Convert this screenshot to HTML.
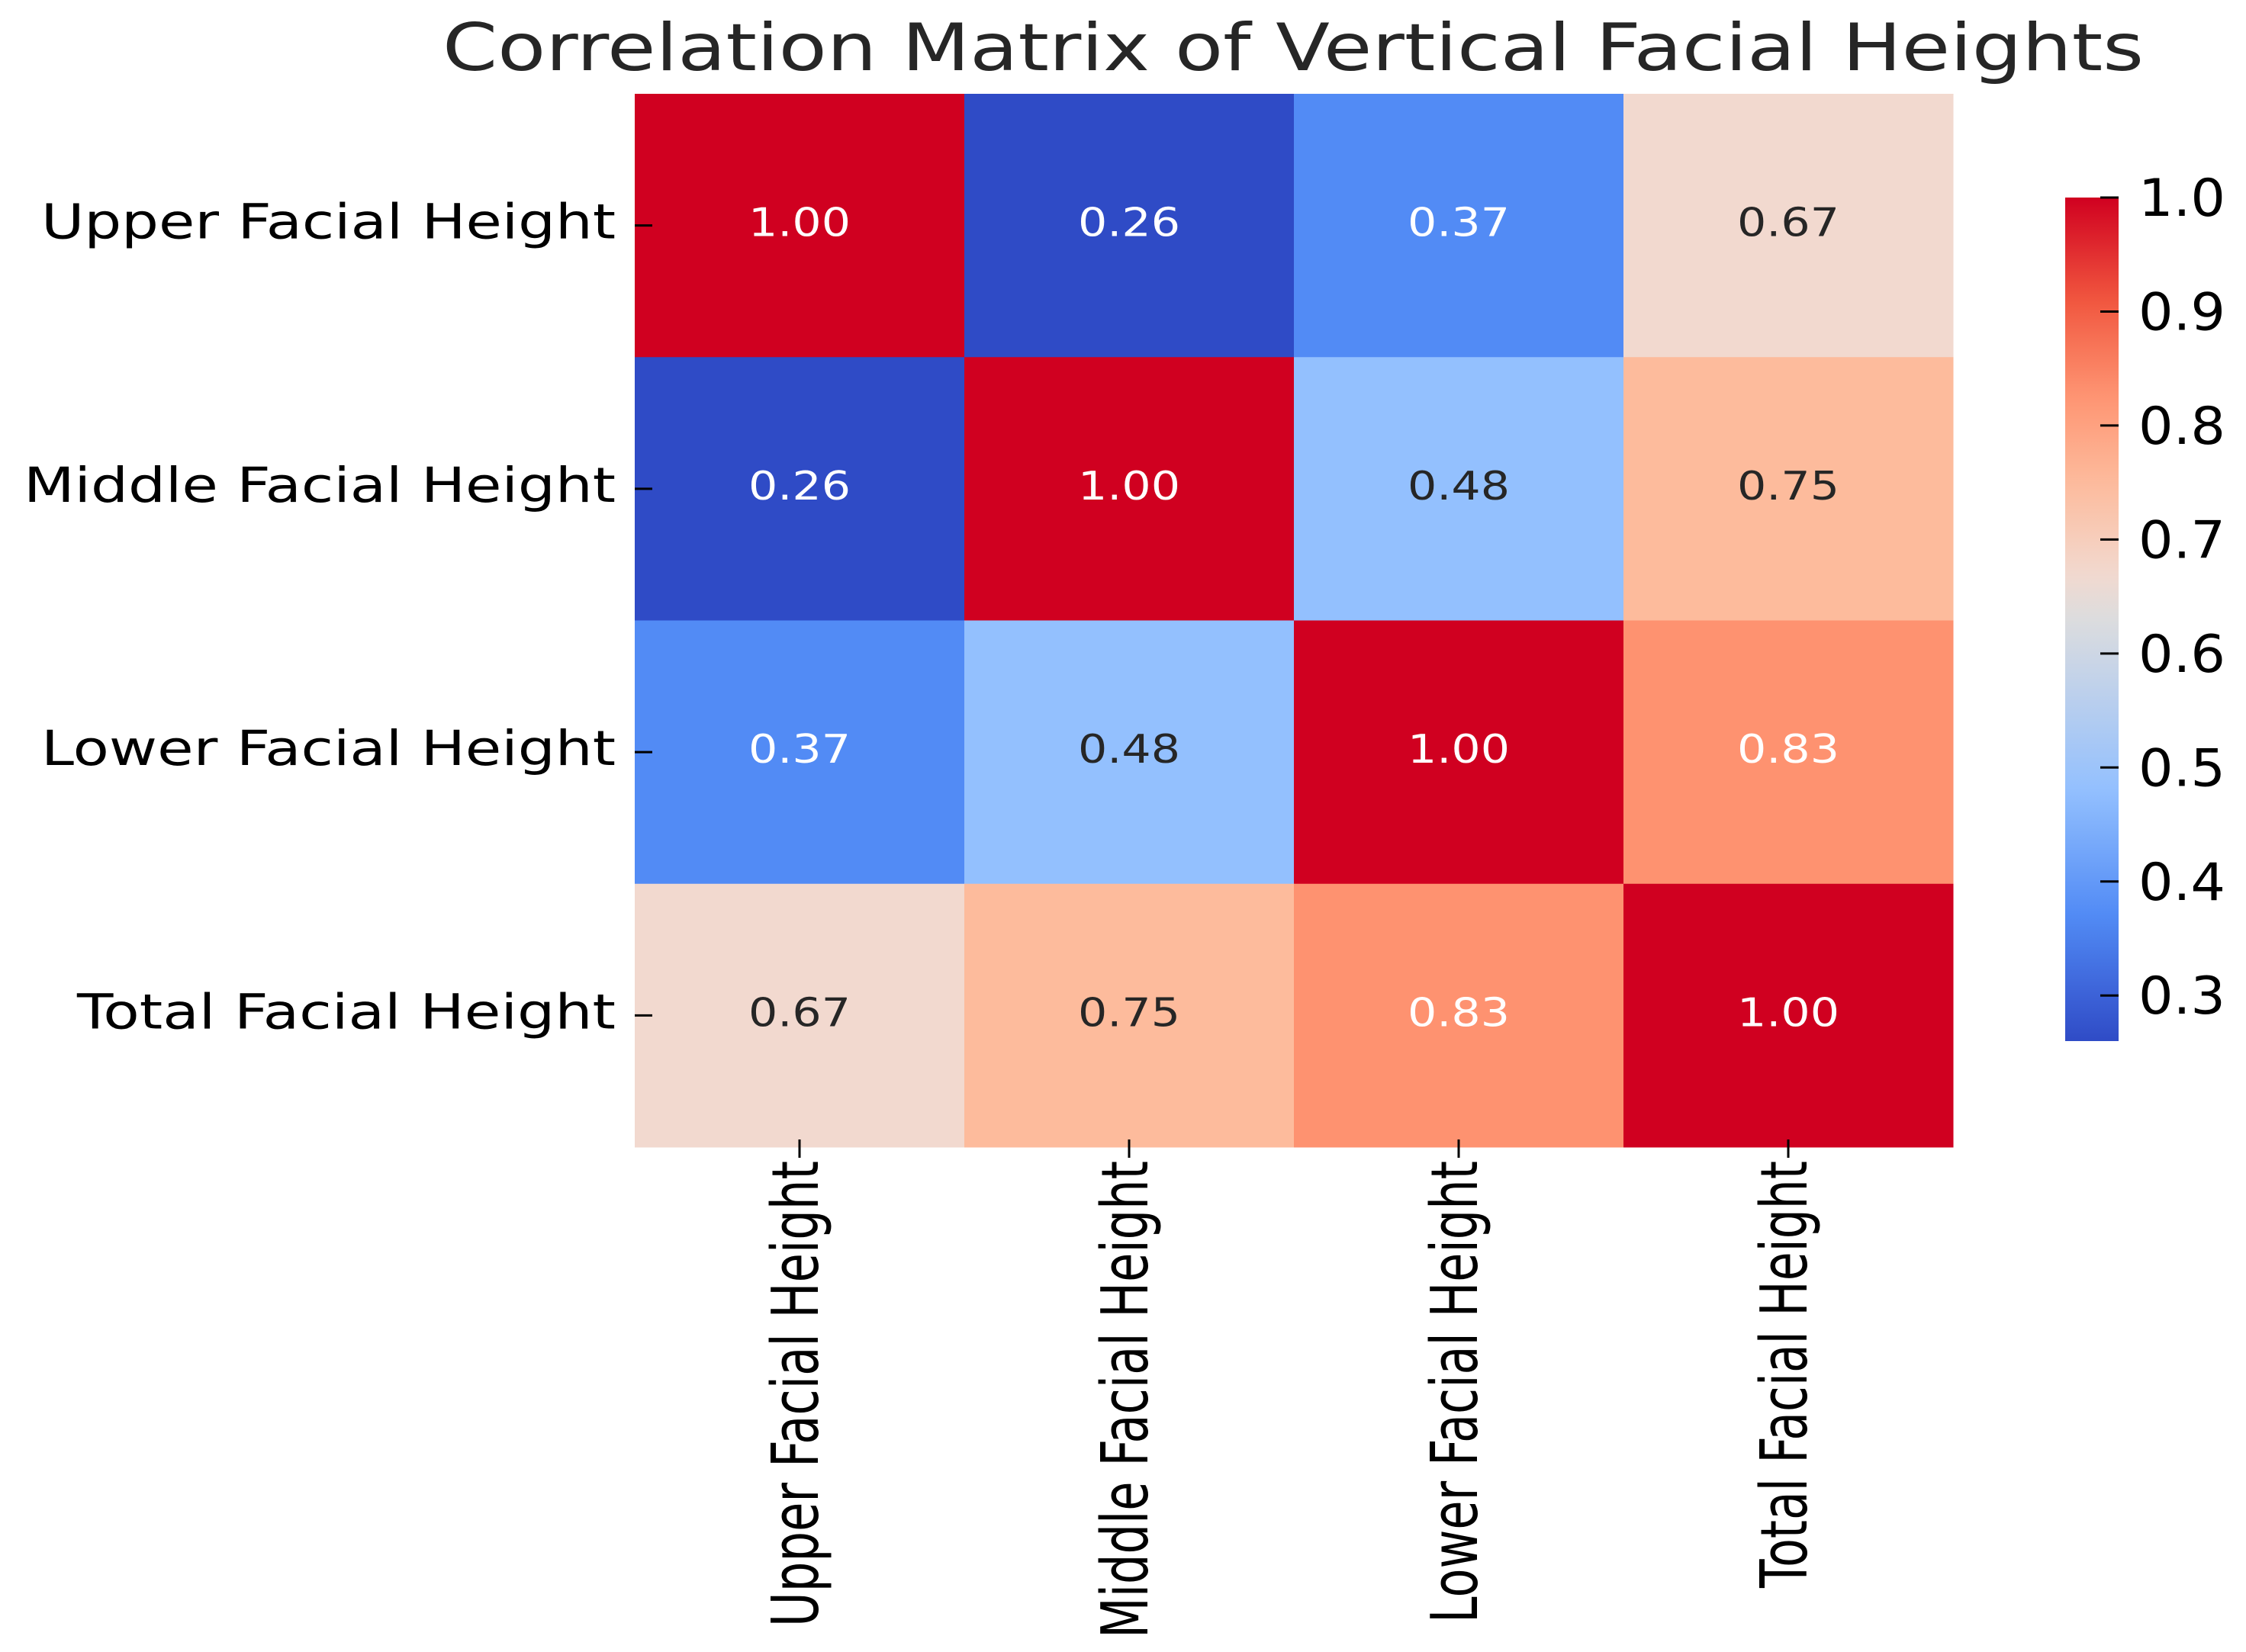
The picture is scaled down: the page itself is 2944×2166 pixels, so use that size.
<!DOCTYPE html>
<html><head><meta charset="utf-8"><style>
html,body{margin:0;padding:0;background:#fff;}
svg{display:block;font-family:"DejaVu Sans","Liberation Sans",sans-serif;}
</style></head><body>
<svg id="chart" width="2944" height="2166" viewBox="0 0 2944 2166" xmlns="http://www.w3.org/2000/svg">
<defs>
<linearGradient id="cbgrad" x1="0" y1="1" x2="0" y2="0"></linearGradient>
</defs>
<text x="1695" y="92" text-anchor="middle" font-size="86" fill="#262626" textLength="2230" lengthAdjust="spacingAndGlyphs">Correlation Matrix of Vertical Facial Heights</text>
<g id="cells"></g>
<g id="annots"></g>
<g id="ylabels"></g>
<g id="xlabels"></g>
<g id="colorbar"></g>
</svg>
<script>
const categories = ["Upper Facial Height","Middle Facial Height","Lower Facial Height","Total Facial Height"];
const row0 = [1.00,0.26,0.37,0.67];
const row1 = [0.26,1.00,0.48,0.75];
const row2 = [0.37,0.48,1.00,0.83];
const row3 = [0.67,0.75,0.83,1.00];
const matrix = [row0,row1,row2,row3];
const cbTicks = [0.3,0.4,0.5,0.6,0.7,0.8,0.9,1.0];
const vmin = 0.26, vmax = 1.0;

const NS = "http://www.w3.org/2000/svg";
const L = 832, R = 2560, T = 123, B = 1504;
const n = categories.length;
const cw = (R-L)/n, ch = (B-T)/n;
function xPos(i){return L + cw*i;}
function yPos(i){return T + ch*i;}
const cbL = 2707, cbR = 2777, cbTop = 259, cbBot = 1365;
function cbY(v){return cbBot - (v-vmin)/(vmax-vmin)*(cbBot-cbTop);}

const stops = [[0,[47,75,198]],[0.149,[82,139,245]],[0.297,[147,192,254]],[0.5,[220,220,222]],[0.554,[242,217,207]],[0.662,[253,187,156]],[0.77,[254,146,112]],[0.88,[240,85,62]],[1,[208,0,32]]];
function cmap(v){
  let t = Math.max(0,Math.min(1,(v-vmin)/(vmax-vmin)));
  for(let k=0;k<stops.length-1;k++){
    const a=stops[k],b=stops[k+1];
    if(t<=b[0]){const f=(t-a[0])/(b[0]-a[0]);
      const c=a[1].map((x,j)=>Math.round(x+(b[1][j]-x)*f));
      return "rgb("+c.join(",")+")";}
  }
  return "rgb(208,0,32)";
}
function mk(tag,attrs,parent){const e=document.createElementNS(NS,tag);for(const k in attrs)e.setAttribute(k,attrs[k]);parent.appendChild(e);return e;}

const cells=document.getElementById("cells"), annots=document.getElementById("annots");
for(let r=0;r<n;r++){for(let c=0;c<n;c++){
  const v=matrix[r][c];
  const rect=mk("rect",{x:xPos(c),y:yPos(r),width:cw+0.5,height:ch+0.5,fill:cmap(v)},cells);
  
  
  const t=(v-vmin)/(vmax-vmin);
  const light=(t<0.2||t>0.7);
  const tx=mk("text",{x:xPos(c)+cw/2,y:yPos(r)+ch/2+14,"text-anchor":"middle","font-size":"52",fill:light?"#ffffff":"#262626",textLength:"134",lengthAdjust:"spacingAndGlyphs"},annots);
  tx.textContent=v.toFixed(2);
  
  
}}

const yl=document.getElementById("ylabels"), xl=document.getElementById("xlabels");
const ylens=[753,776,753,706], xlens=[611,626,606,560];
for(let i=0;i<n;i++){
  const cy=yPos(i)+ch/2;
  const tk=mk("line",{x1:832,x2:855,y1:cy,y2:cy,stroke:"#000","stroke-width":"3"},yl);
  
  
  const t=mk("text",{x:807,y:cy+17,"text-anchor":"end","font-size":"63",fill:"#000",textLength:ylens[i],lengthAdjust:"spacingAndGlyphs"},yl);
  t.textContent=categories[i];
  
  
  const cx=xPos(i)+cw/2;
  const tk2=mk("line",{x1:cx,x2:cx,y1:1494,y2:1518,stroke:"#000","stroke-width":"3"},xl);
  
  
  const t2=mk("text",{x:0,y:0,"text-anchor":"end","font-size":"85",fill:"#000",textLength:xlens[i],lengthAdjust:"spacingAndGlyphs",transform:"translate("+(cx+24)+",1522) rotate(-90)"},xl);
  t2.textContent=categories[i];
  
  
}

const grad=document.getElementById("cbgrad");
for(let k=0;k<=40;k++){const v=vmin+(vmax-vmin)*k/40;
  const s=mk("stop",{offset:(k/40),"stop-color":cmap(v)},grad);
  
  
}
const cb=document.getElementById("colorbar");
const bar=mk("rect",{x:cbL,y:cbTop,width:cbR-cbL,height:cbBot-cbTop,fill:"url(#cbgrad)"},cb);


cbTicks.forEach(v=>{
  const y=cbY(v);
  const l=mk("line",{x1:2753,x2:2777,y1:y,y2:y,stroke:"#000","stroke-width":"3"},cb);
  
  
  const t=mk("text",{x:2803,y:y+24,"font-size":"68",fill:"#000",textLength:"114",lengthAdjust:"spacingAndGlyphs"},cb);
  t.textContent=v.toFixed(1);
  
  
});
</script>
</body></html>
